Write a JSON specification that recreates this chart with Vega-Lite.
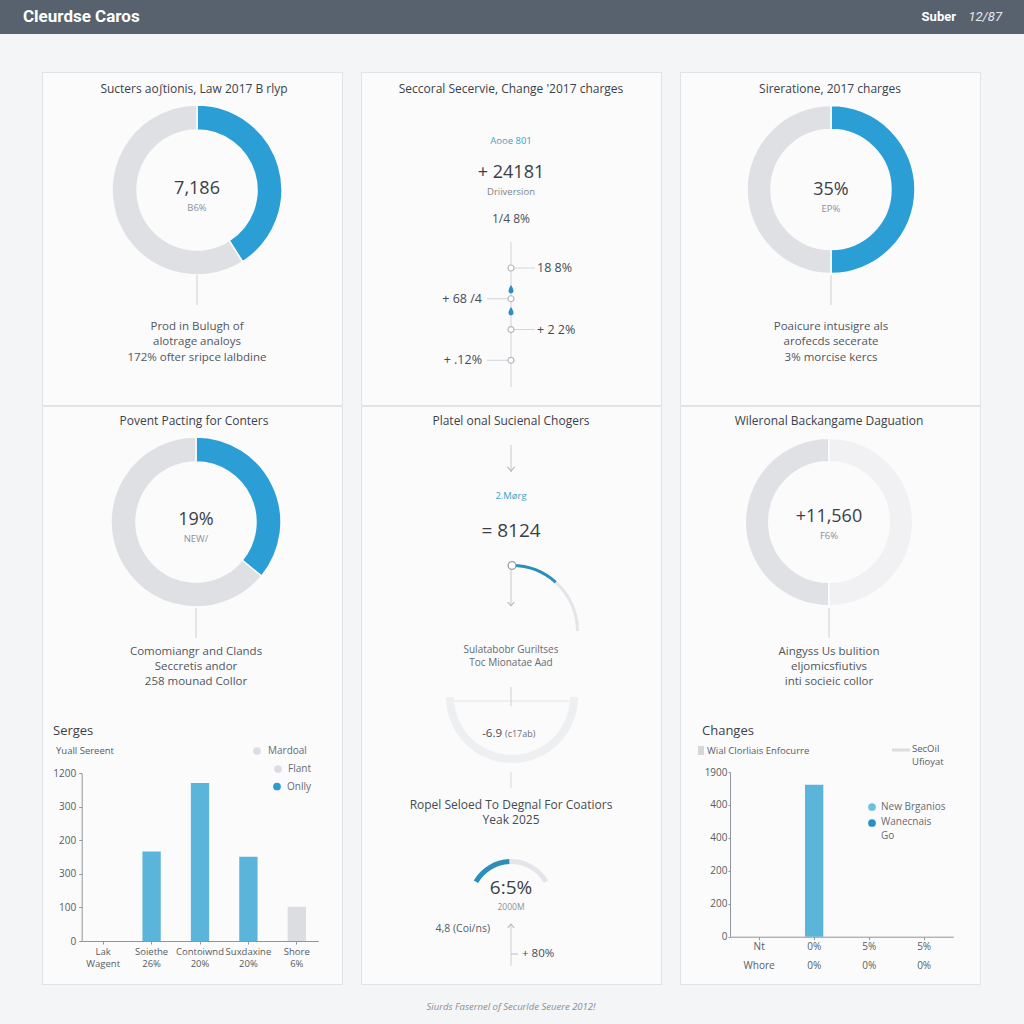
{
  "$schema": "https://vega.github.io/schema/vega-lite/v6.json",
  "padding": 0,
  "background": "#f4f5f7",
  "spacing": 37,
  "resolve": {"scale": {"theta": "independent", "color": "independent"}},
  "config": {
    "font": "Open Sans",
    "view": {"stroke": "#e1e3e7", "fill": "#fbfbfc", "strokeWidth": 1},
    "text": {"font": "Open Sans", "align": "center", "baseline": "middle", "color": "#3b4149"},
    "axis": {"domainColor": "#8f959c", "tickColor": "#8f959c", "tickSize": 3, "labelColor": "#565b62", "labelFontSize": 10, "labelFont": "Open Sans", "grid": false}
  },
  "vconcat": [
    {
      "width": 1024,
      "height": 34,
      "view": {"fill": "#58626f", "stroke": null},
      "data": {"values": [{"brand": "Cleurdse Caros", "user": "Suber", "code": "12/87"}]},
      "layer": [
        {"mark": {"type": "text", "x": 23, "y": 17, "align": "left", "font": "Roboto", "fontSize": 17, "fontWeight": "bold", "color": "#ffffff", "letterSpacing": -0.4}, "encoding": {"text": {"field": "brand"}}},
        {"mark": {"type": "text", "x": 956, "y": 17, "align": "right", "font": "Roboto", "fontSize": 13, "fontWeight": "bold", "color": "#ffffff"}, "encoding": {"text": {"field": "user"}}},
        {"mark": {"type": "text", "x": 1002, "y": 17, "align": "right", "font": "Roboto", "fontSize": 13, "fontStyle": "italic", "color": "#e6eaef"}, "encoding": {"text": {"field": "code"}}}
      ]
    },
    {
      "spacing": -2,
      "resolve": {"scale": {"theta": "independent", "color": "independent"}},
      "vconcat": [
        {
          "bounds": "flush",
          "spacing": 19,
          "resolve": {"scale": {"theta": "independent", "color": "independent"}},
          "hconcat": [
            {"width": 23, "height": 333, "view": {"stroke": null, "fill": null}, "data": {"values": [{"t": ""}]}, "mark": {"type": "text"}, "encoding": {"text": {"field": "t"}}},
            {
              "width": 300,
              "height": 333,
              "view": {"stroke": "#e1e3e7", "fill": "#fbfbfc"},
              "data": {"values": [{"title": "Sucters aoʃtionis, Law 2017 B rlyp", "value": "7,186", "sub": "B6%", "note": "Prod in Bulugh of\nalotrage analoys\n172% ofter sripce lalbdine"}]},
              "layer": [
                {"mark": {"type": "text", "x": 152, "y": 16.5, "fontSize": 12}, "encoding": {"text": {"field": "title"}}},
                {
                  "data": {"values": [{"part": "share", "pct": 41}, {"part": "rest", "pct": 59}]},
                  "mark": {"type": "arc", "x": 155, "y": 118, "radius": 85, "radius2": 60, "stroke": "#fbfbfc", "strokeWidth": 1.5},
                  "encoding": {
                    "theta": {"field": "pct", "type": "quantitative"},
                    "color": {"condition": {"test": "datum.part == 'share'", "value": "#2b9fd5"}, "value": "#dfe0e4"},
                    "order": {"field": "part", "sort": "descending"}
                  }
                },
                {"mark": {"type": "text", "x": 155, "y": 116.5, "fontSize": 18, "color": "#3a3f47"}, "encoding": {"text": {"field": "value"}}},
                {"mark": {"type": "text", "x": 155, "y": 135.5, "fontSize": 9.5, "color": "#8a9099"}, "encoding": {"text": {"field": "sub"}}},
                {"mark": {"type": "rule", "color": "#cdd0d5"}, "encoding": {"x": {"value": 155}, "y": {"value": 203}, "y2": {"value": 233}}},
                {"mark": {"type": "text", "x": 155, "y": 248.5, "baseline": "top", "lineBreak": "\n", "lineHeight": 15.5, "fontSize": 11.5, "color": "#50565e"}, "encoding": {"text": {"field": "note"}}}
              ]
            },
            {
              "width": 300,
              "height": 333,
              "view": {"stroke": "#e1e3e7", "fill": "#fbfbfc"},
              "data": {"values": [{"title": "Seccoral Secervie, Change '2017 charges", "tag": "Aooe 801", "value": "+ 24181", "sub": "Driiversion", "rate": "1/4 8%"}]},
              "layer": [
                {"mark": {"type": "text", "x": 150, "y": 16.5, "fontSize": 12}, "encoding": {"text": {"field": "title"}}},
                {"mark": {"type": "text", "x": 150, "y": 69, "fontSize": 9.5, "color": "#3ea3c8"}, "encoding": {"text": {"field": "tag"}}},
                {"mark": {"type": "text", "x": 150, "y": 100.5, "fontSize": 18, "color": "#3a3f47"}, "encoding": {"text": {"field": "value"}}},
                {"mark": {"type": "text", "x": 150, "y": 119.5, "fontSize": 9.5, "color": "#7d838b"}, "encoding": {"text": {"field": "sub"}}},
                {"mark": {"type": "text", "x": 150, "y": 146.5, "fontSize": 12, "color": "#4a5058"}, "encoding": {"text": {"field": "rate"}}},
                {
                  "mark": {"type": "rule", "color": "#d0d3d7"},
                  "encoding": {
                    "x": {"datum": "center", "type": "nominal", "scale": {"type": "point", "domain": ["left", "center", "right"], "range": [126, 174], "padding": 0}, "axis": null},
                    "y": {"datum": 0.15, "type": "quantitative", "scale": {"domain": [1, 4], "range": [196, 288.3], "nice": false, "zero": false}, "axis": null},
                    "y2": {"datum": 4.87}
                  }
                },
                {
                  "data": {"values": [{"step": 1, "side": "right", "label": "18 8%"}, {"step": 2, "side": "left", "label": "+ 68 /4"}, {"step": 3, "side": "right", "label": "+ 2 2%"}, {"step": 4, "side": "left", "label": "+ .12%"}]},
                  "layer": [
                    {"mark": {"type": "rule", "color": "#d3d6da"}, "encoding": {"x": {"field": "side", "type": "nominal"}, "x2": {"datum": "center"}, "y": {"field": "step", "type": "quantitative"}}},
                    {"mark": {"type": "point", "filled": true, "color": "#ffffff", "stroke": "#b3b8be", "strokeWidth": 1.2, "size": 36, "opacity": 1}, "encoding": {"x": {"datum": "center", "type": "nominal"}, "y": {"field": "step", "type": "quantitative"}}},
                    {"transform": [{"filter": "datum.side == 'right'"}], "mark": {"type": "text", "align": "left", "dx": 2, "fontSize": 12.5, "color": "#454b53"}, "encoding": {"x": {"field": "side", "type": "nominal"}, "y": {"field": "step", "type": "quantitative"}, "text": {"field": "label"}}},
                    {"transform": [{"filter": "datum.side == 'left'"}], "mark": {"type": "text", "align": "right", "dx": -5, "fontSize": 12.5, "color": "#454b53"}, "encoding": {"x": {"field": "side", "type": "nominal"}, "y": {"field": "step", "type": "quantitative"}, "text": {"field": "label"}}}
                  ]
                },
                {
                  "data": {"values": [{"pos": 1.69}, {"pos": 2.4}]},
                  "mark": {"type": "point", "filled": true, "color": "#2a8fc2", "opacity": 1, "size": 70, "shape": "M0,-1C0.55,-0.2 0.6,0.3 0.6,0.45C0.6,0.8 0.3,1 0,1C-0.3,1 -0.6,0.8 -0.6,0.45C-0.6,0.3 -0.55,-0.2 0,-1Z"},
                  "encoding": {"x": {"datum": "center", "type": "nominal"}, "y": {"field": "pos", "type": "quantitative"}}
                }
              ]
            },
            {
              "width": 300,
              "height": 333,
              "view": {"stroke": "#e1e3e7", "fill": "#fbfbfc"},
              "data": {"values": [{"title": "Sireratione, 2017 charges", "value": "35%", "sub": "EP%", "note": "Poaicure intusigre als\narofecds secerate\n3% morcise kercs"}]},
              "layer": [
                {"mark": {"type": "text", "x": 150, "y": 16.5, "fontSize": 12}, "encoding": {"text": {"field": "title"}}},
                {
                  "data": {"values": [{"part": "share", "pct": 50}, {"part": "rest", "pct": 50}]},
                  "mark": {"type": "arc", "x": 151, "y": 117.5, "radius": 84, "radius2": 60, "stroke": "#fbfbfc", "strokeWidth": 1.5},
                  "encoding": {
                    "theta": {"field": "pct", "type": "quantitative"},
                    "color": {"condition": {"test": "datum.part == 'share'", "value": "#2b9fd5"}, "value": "#dfe0e4"},
                    "order": {"field": "part", "sort": "descending"}
                  }
                },
                {"mark": {"type": "text", "x": 151, "y": 117.5, "fontSize": 18, "color": "#3a3f47"}, "encoding": {"text": {"field": "value"}}},
                {"mark": {"type": "text", "x": 151, "y": 136.5, "fontSize": 9.5, "color": "#8a9099"}, "encoding": {"text": {"field": "sub"}}},
                {"mark": {"type": "rule", "color": "#cdd0d5"}, "encoding": {"x": {"value": 151}, "y": {"value": 203}, "y2": {"value": 233}}},
                {"mark": {"type": "text", "x": 151, "y": 248.5, "baseline": "top", "lineBreak": "\n", "lineHeight": 15.5, "fontSize": 11.5, "color": "#50565e"}, "encoding": {"text": {"field": "note"}}}
              ]
            }
          ]
        },
        {
          "bounds": "flush",
          "spacing": 19,
          "resolve": {"scale": {"theta": "independent", "color": "independent"}},
          "hconcat": [
            {"width": 23, "height": 578, "view": {"stroke": null, "fill": null}, "data": {"values": [{"t": ""}]}, "mark": {"type": "text"}, "encoding": {"text": {"field": "t"}}},
            {
              "width": 300,
              "height": 578,
              "view": {"stroke": "#e1e3e7", "fill": "#fbfbfc"},
              "data": {"values": [{"title": "Povent Pacting for Conters", "value": "19%", "sub": "NEW/", "note": "Comomiangr and Clands\nSeccretis andor\n258 mounad Collor", "chart": "Serges", "unit": "Yuall Sereent", "l1": "Mardoal", "l2": "Flant", "l3": "Onlly"}]},
              "layer": [
                {"mark": {"type": "text", "x": 152, "y": 15, "fontSize": 12}, "encoding": {"text": {"field": "title"}}},
                {
                  "data": {"values": [{"part": "share", "pct": 36}, {"part": "rest", "pct": 64}]},
                  "mark": {"type": "arc", "x": 154, "y": 116, "radius": 85, "radius2": 60, "stroke": "#fbfbfc", "strokeWidth": 1.5},
                  "encoding": {
                    "theta": {"field": "pct", "type": "quantitative"},
                    "color": {"condition": {"test": "datum.part == 'share'", "value": "#2b9fd5"}, "value": "#dfe0e4"},
                    "order": {"field": "part", "sort": "descending"}
                  }
                },
                {"mark": {"type": "text", "x": 154, "y": 114, "fontSize": 18, "color": "#3a3f47"}, "encoding": {"text": {"field": "value"}}},
                {"mark": {"type": "text", "x": 154, "y": 133, "fontSize": 9.5, "color": "#8a9099"}, "encoding": {"text": {"field": "sub"}}},
                {"mark": {"type": "rule", "color": "#cdd0d5"}, "encoding": {"x": {"value": 154}, "y": {"value": 202}, "y2": {"value": 232}}},
                {"mark": {"type": "text", "x": 154, "y": 240, "baseline": "top", "lineBreak": "\n", "lineHeight": 15, "fontSize": 11.5, "color": "#50565e"}, "encoding": {"text": {"field": "note"}}},
                {"mark": {"type": "text", "x": 11, "y": 325, "align": "left", "fontSize": 13, "color": "#3b4149"}, "encoding": {"text": {"field": "chart"}}},
                {"mark": {"type": "text", "x": 14, "y": 345, "align": "left", "fontSize": 9.5, "color": "#565b62"}, "encoding": {"text": {"field": "unit"}}},
                {"mark": {"type": "point", "x": 215, "y": 345, "filled": true, "size": 60, "color": "#dcdde2", "opacity": 1}, "encoding": {}},
                {"mark": {"type": "text", "x": 226, "y": 345, "align": "left", "fontSize": 10, "color": "#666b72"}, "encoding": {"text": {"field": "l1"}}},
                {"mark": {"type": "point", "x": 236, "y": 363, "filled": true, "size": 60, "color": "#dcdde2", "opacity": 1}, "encoding": {}},
                {"mark": {"type": "text", "x": 246, "y": 363, "align": "left", "fontSize": 10, "color": "#666b72"}, "encoding": {"text": {"field": "l2"}}},
                {"mark": {"type": "point", "x": 235, "y": 380.5, "filled": true, "size": 60, "color": "#2b9bd1", "opacity": 1}, "encoding": {}},
                {"mark": {"type": "text", "x": 245, "y": 380.5, "align": "left", "fontSize": 10, "color": "#666b72"}, "encoding": {"text": {"field": "l3"}}},
                {
                  "data": {"values": [{"cat": "Lak|Wagent", "v": 0, "s": "on"}, {"cat": "Soiethe|26%", "v": 267, "s": "on"}, {"cat": "Contoiwnd|20%", "v": 471, "s": "on"}, {"cat": "Suxdaxine|20%", "v": 251, "s": "on"}, {"cat": "Shore|6%", "v": 102, "s": "off"}]},
                  "mark": {"type": "bar"},
                  "encoding": {
                    "x": {"field": "cat", "type": "nominal", "sort": null, "title": null, "scale": {"range": [39.7, 276.3], "paddingInner": 0.622, "paddingOuter": 0.255}, "axis": {"orient": "bottom", "offset": -43, "labelAngle": 0, "labelExpr": "split(datum.label, '|')", "labelLineHeight": 12.7, "labelPadding": 2, "labelFontSize": 9.5, "tickSize": 3}},
                    "y": {"field": "v", "type": "quantitative", "title": null, "scale": {"domain": [0, 500], "range": [535, 367.3], "nice": false}, "axis": {"orient": "left", "offset": -39.7, "values": [0, 100, 200, 300, 400, 500], "labelExpr": "datum.value == 500 ? '1200' : datum.value == 400 ? '300' : datum.value == 300 ? '200' : datum.value == 200 ? '300' : datum.value == 100 ? '100' : '0'", "labelPadding": 3}},
                    "color": {"condition": {"test": "datum.s == 'off'", "value": "#dcdde1"}, "value": "#5bb5da"}
                  }
                }
              ]
            },
            {
              "width": 300,
              "height": 578,
              "view": {"stroke": "#e1e3e7", "fill": "#fbfbfc"},
              "data": {"values": [{"title": "Platel onal Sucienal Chogers", "tag": "2.Mørg", "value": "= 8124", "note": "Sulatabobr Guriltses\nToc Mionatae Aad", "delta": "-6.9", "deltaUnit": "(c17ab)", "title2": "Ropel Seloed To Degnal For Coatiors\nYeak 2025", "gauge": "6:5%", "gaugeSub": "2000M", "side": "4,8 (Coi/ns)", "up": "+ 80%"}]},
              "resolve": {"scale": {"theta": "independent"}},
              "layer": [
                {"mark": {"type": "text", "x": 150, "y": 15, "fontSize": 12}, "encoding": {"text": {"field": "title"}}},
                {"mark": {"type": "rule", "color": "#c4c8cd"}, "encoding": {"x": {"value": 150}, "y": {"value": 39}, "y2": {"value": 66}}},
                {"mark": {"type": "point", "x": 150, "y": 63, "shape": "M-1,-0.6L0,0.6L1,-0.6", "size": 50, "filled": false, "color": "#b8bcc2", "strokeWidth": 1.2, "opacity": 1}, "encoding": {}},
                {"mark": {"type": "text", "x": 150, "y": 90, "fontSize": 9.5, "color": "#3ea3c8"}, "encoding": {"text": {"field": "tag"}}},
                {"mark": {"type": "text", "x": 150, "y": 125, "fontSize": 19, "color": "#3a3f47"}, "encoding": {"text": {"field": "value"}}},
                {
                  "data": {"values": [{"seg": "progress", "from": 0, "to": 42}, {"seg": "remaining", "from": 42, "to": 90}]},
                  "mark": {"type": "arc", "x": 151, "y": 225, "radius": 67, "radius2": 64},
                  "encoding": {
                    "theta": {"field": "from", "type": "quantitative", "scale": {"domain": [0, 360], "range": [0, 6.283185], "zero": false, "nice": false}},
                    "theta2": {"field": "to"},
                    "color": {"condition": {"test": "datum.seg == 'progress'", "value": "#2a8fba"}, "value": "#e3e5e8"}
                  }
                },
                {"mark": {"type": "rule", "color": "#c4c8cd"}, "encoding": {"x": {"value": 150}, "y": {"value": 164}, "y2": {"value": 200}}},
                {"mark": {"type": "point", "x": 150, "y": 198, "shape": "M-1,-0.6L0,0.6L1,-0.6", "size": 40, "filled": false, "color": "#b8bcc2", "strokeWidth": 1.2, "opacity": 1}, "encoding": {}},
                {"mark": {"type": "point", "x": 151, "y": 159.5, "filled": true, "size": 60, "color": "#ffffff", "stroke": "#9aa0a7", "strokeWidth": 1.3, "opacity": 1}, "encoding": {}},
                {"mark": {"type": "text", "x": 150, "y": 239, "baseline": "top", "lineBreak": "\n", "lineHeight": 12.8, "fontSize": 10, "color": "#666b72"}, "encoding": {"text": {"field": "note"}}},
                {"mark": {"type": "arc", "x": 151, "y": 291, "radius": 66, "radius2": 58, "theta": 1.570796, "theta2": 4.712389, "color": "#eeeff1"}, "encoding": {}},
                {"mark": {"type": "rule", "color": "#e2e4e7"}, "encoding": {"x": {"value": 93}, "x2": {"value": 208}, "y": {"value": 295}}},
                {"mark": {"type": "rule", "color": "#cdd0d5"}, "encoding": {"x": {"value": 150}, "y": {"value": 281}, "y2": {"value": 300}}},
                {"mark": {"type": "text", "x": 141, "y": 328, "align": "right", "fontSize": 11.5, "color": "#454b53"}, "encoding": {"text": {"field": "delta"}}},
                {"mark": {"type": "text", "x": 144, "y": 328, "align": "left", "fontSize": 9, "color": "#6b7078"}, "encoding": {"text": {"field": "deltaUnit"}}},
                {"mark": {"type": "rule", "color": "#d5d8dc"}, "encoding": {"x": {"value": 150}, "y": {"value": 366}, "y2": {"value": 382}}},
                {"mark": {"type": "text", "x": 150, "y": 393.5, "baseline": "top", "lineBreak": "\n", "lineHeight": 15.5, "fontSize": 12, "color": "#454b53"}, "encoding": {"text": {"field": "title2"}}},
                {
                  "data": {"values": [{"seg": "progress", "from": -60, "to": -2}, {"seg": "remaining", "from": -2, "to": 60}]},
                  "mark": {"type": "arc", "x": 150, "y": 496, "radius": 43, "radius2": 38},
                  "encoding": {
                    "theta": {"field": "from", "type": "quantitative", "scale": {"domain": [-180, 180], "range": [-3.141593, 3.141593], "zero": false, "nice": false}},
                    "theta2": {"field": "to"},
                    "color": {"condition": {"test": "datum.seg == 'progress'", "value": "#2a8fba"}, "value": "#e3e5e8"}
                  }
                },
                {"mark": {"type": "text", "x": 150, "y": 482, "fontSize": 19, "color": "#3a3f47"}, "encoding": {"text": {"field": "gauge"}}},
                {"mark": {"type": "text", "x": 150, "y": 501, "fontSize": 8.5, "color": "#8a9099"}, "encoding": {"text": {"field": "gaugeSub"}}},
                {"mark": {"type": "text", "x": 129, "y": 523, "align": "right", "fontSize": 10.5, "color": "#555b63"}, "encoding": {"text": {"field": "side"}}},
                {"mark": {"type": "rule", "color": "#cdd0d5"}, "encoding": {"x": {"value": 150}, "y": {"value": 518}, "y2": {"value": 560}}},
                {"mark": {"type": "point", "x": 150, "y": 520, "shape": "M-1,0.6L0,-0.6L1,0.6", "size": 40, "filled": false, "color": "#b8bcc2", "strokeWidth": 1.2, "opacity": 1}, "encoding": {}},
                {"mark": {"type": "rule", "color": "#b8bcc2"}, "encoding": {"x": {"value": 150}, "x2": {"value": 157}, "y": {"value": 548}}},
                {"mark": {"type": "text", "x": 161, "y": 548, "align": "left", "fontSize": 11.5, "color": "#454b53"}, "encoding": {"text": {"field": "up"}}}
              ]
            },
            {
              "width": 300,
              "height": 578,
              "view": {"stroke": "#e1e3e7", "fill": "#fbfbfc"},
              "data": {"values": [{"title": "Wileronal Backangame Daguation", "value": "+11,560", "sub": "F6%", "note": "Aingyss Us bulition\neljomicsfiutivs\ninti socieic collor", "chart": "Changes", "key1": "Wial Clorliais Enfocurre", "key2": "SecOil\nUfioyat", "l1": "New Brganios", "l2": "Wanecnais\nGo"}]},
              "layer": [
                {"mark": {"type": "text", "x": 149, "y": 15, "fontSize": 12}, "encoding": {"text": {"field": "title"}}},
                {
                  "data": {"values": [{"part": "light", "pct": 50}, {"part": "dark", "pct": 50}]},
                  "mark": {"type": "arc", "x": 149, "y": 116, "radius": 84, "radius2": 60, "stroke": "#fbfbfc", "strokeWidth": 2},
                  "encoding": {
                    "theta": {"field": "pct", "type": "quantitative"},
                    "color": {"condition": {"test": "datum.part == 'light'", "value": "#f1f1f3"}, "value": "#e0e1e5"},
                    "order": {"field": "part", "sort": "descending"}
                  }
                },
                {"mark": {"type": "text", "x": 149, "y": 111, "fontSize": 18, "color": "#3a3f47"}, "encoding": {"text": {"field": "value"}}},
                {"mark": {"type": "text", "x": 149, "y": 130, "fontSize": 9.5, "color": "#8a9099"}, "encoding": {"text": {"field": "sub"}}},
                {"mark": {"type": "rule", "color": "#cdd0d5"}, "encoding": {"x": {"value": 149}, "y": {"value": 202}, "y2": {"value": 232}}},
                {"mark": {"type": "text", "x": 149, "y": 240, "baseline": "top", "lineBreak": "\n", "lineHeight": 15, "fontSize": 11.5, "color": "#50565e"}, "encoding": {"text": {"field": "note"}}},
                {"mark": {"type": "text", "x": 22, "y": 325, "align": "left", "fontSize": 13, "color": "#3b4149"}, "encoding": {"text": {"field": "chart"}}},
                {"mark": {"type": "rect", "x": 18, "x2": 24, "y": 340, "y2": 349, "color": "#d6d7db"}, "encoding": {}},
                {"mark": {"type": "text", "x": 27, "y": 345, "align": "left", "fontSize": 9.5, "color": "#565b62"}, "encoding": {"text": {"field": "key1"}}},
                {"mark": {"type": "rule", "color": "#dcdde0", "strokeWidth": 3}, "encoding": {"x": {"value": 212}, "x2": {"value": 230}, "y": {"value": 344}}},
                {"mark": {"type": "text", "x": 232, "y": 337.5, "align": "left", "baseline": "top", "lineBreak": "\n", "lineHeight": 13.5, "fontSize": 9.5, "color": "#565b62"}, "encoding": {"text": {"field": "key2"}}},
                {"mark": {"type": "point", "x": 192, "y": 401, "filled": true, "size": 60, "color": "#6cc0e0", "opacity": 1}, "encoding": {}},
                {"mark": {"type": "text", "x": 201, "y": 401, "align": "left", "fontSize": 10, "color": "#666b72"}, "encoding": {"text": {"field": "l1"}}},
                {"mark": {"type": "point", "x": 192, "y": 417, "filled": true, "size": 60, "color": "#2a8fc4", "opacity": 1}, "encoding": {}},
                {"mark": {"type": "text", "x": 201, "y": 410.5, "align": "left", "baseline": "top", "lineBreak": "\n", "lineHeight": 14, "fontSize": 10, "color": "#666b72"}, "encoding": {"text": {"field": "l2"}}},
                {
                  "data": {"values": [{"cat": "Nt|Whore", "v": 0}, {"cat": "0%|0%", "v": 461}, {"cat": "5%|0%", "v": 0}, {"cat": "5% |0%", "v": 0}]},
                  "mark": {"type": "bar", "color": "#5bb5da"},
                  "encoding": {
                    "x": {"field": "cat", "type": "nominal", "sort": null, "title": null, "scale": {"range": [50, 273.3], "paddingInner": 0.667, "paddingOuter": 0.364}, "axis": {"orient": "bottom", "offset": -47.3, "labelAngle": 0, "labelExpr": "split(datum.label, '|')", "labelLineHeight": 19, "labelPadding": 2, "tickSize": 3}},
                    "y": {"field": "v", "type": "quantitative", "title": null, "scale": {"domain": [0, 500], "range": [530.7, 366], "nice": false}, "axis": {"orient": "left", "offset": -50, "values": [0, 100, 200, 300, 400, 500], "labelExpr": "datum.value == 500 ? '1900' : datum.value == 400 ? '400' : datum.value == 300 ? '400' : datum.value == 200 ? '200' : datum.value == 100 ? '200' : '0'", "labelPadding": 1, "tickSize": 2}}
                  }
                }
              ]
            }
          ]
        },
        {
          "width": 1024,
          "height": 40,
          "view": {"stroke": null, "fill": null},
          "data": {"values": [{"source": "Siurds Fasernel of Securlde Seuere 2012!"}]},
          "mark": {"type": "text", "x": 511, "y": 22, "fontSize": 9.5, "fontStyle": "italic", "color": "#8a8f96"},
          "encoding": {"text": {"field": "source"}}
        }
      ]
    }
  ]
}
